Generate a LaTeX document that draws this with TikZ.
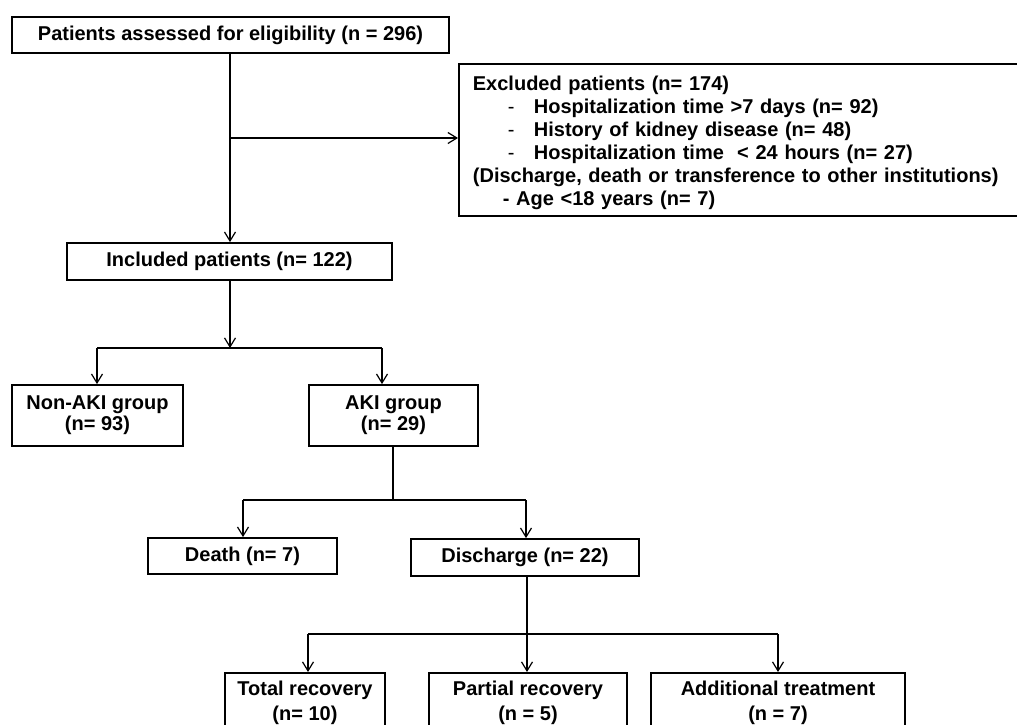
\documentclass[tikz,border=0pt]{standalone}
\usepackage{fontspec}
\setmainfont{Liberation Sans}
\usetikzlibrary{arrows.meta}

\tikzset{
  box/.style={draw, line width=1.8pt, inner sep=0pt, align=center,
    font=\fontsize{20}{23}\selectfont\bfseries},
  twoline/.style={box, font=\fontsize{20}{21}\selectfont\bfseries},
  endbox/.style={box, anchor=north, minimum height=60pt,
    font=\fontsize{20}{25}\selectfont\bfseries},
  link/.style={line width=1.2pt},
  arr/.style={link, -{Straight Barb[length=9pt,width=11pt]}}
}

\begin{document}
\begin{tikzpicture}[x=1pt,y=-1pt]
    \useasboundingbox (0,0) rectangle (1017,725);
    \clip (0,0) rectangle (1017,725);
    \fill[white] (0,0) rectangle (1017,725);
    \node[box, minimum width=437pt, minimum height=36pt] (assessed) at (230.5,35) {Patients assessed for eligibility (n = 296)};
    \node[box, anchor=north west, minimum width=600pt, minimum height=152pt,
      text width=572pt, inner xsep=14pt, align=left] (excluded) at (458,63)
      {\rule{0pt}{20pt}Excluded patients (n= 174)\\
       \hspace*{35pt}\makebox[26pt][l]{\mdseries -}Hospitalization time >7 days (n= 92)\\
       \hspace*{35pt}\makebox[26pt][l]{\mdseries -}History of kidney disease (n= 48)\\
       \hspace*{35pt}\makebox[26pt][l]{\mdseries -}Hospitalization time\ \ < 24 hours (n= 27)\\
       (Discharge, death or transference to other institutions)\\
       \hspace*{30pt}- Age <18 years (n= 7)};
    \node[box, minimum width=325pt, minimum height=37pt] (included) at (229.5,261.5) {Included patients (n= 122)};
    \node[twoline, minimum width=171pt, minimum height=61pt] (nonaki) at (97.5,415.5) {Non-AKI group\\(n= 93)};
    \node[twoline, minimum width=169pt, minimum height=61pt] (aki) at (393.5,415.5) {AKI group\\(n= 29)};
    \node[box, minimum width=189pt, minimum height=36pt] (death) at (242.5,556) {Death (n= 7)};
    \node[box, minimum width=228pt, minimum height=37pt] (discharge) at (525,557.5) {Discharge (n= 22)};
    \node[endbox, minimum width=160pt] (total) at (305,672) {Total recovery\\(n= 10)};
    \node[endbox, minimum width=198pt] (partial) at (528,672) {Partial recovery\\(n = 5)};
    \node[endbox, minimum width=254pt] (additional) at (778,672) {Additional treatment\\(n = 7)};

    % junctions
    \coordinate (J0) at (230,138);
    \coordinate (J1) at (230,348);
    \coordinate (J1l) at (97,348);
    \coordinate (J1r) at (382,348);
    \coordinate (J2) at (393,500);
    \coordinate (J2l) at (243,500);
    \coordinate (J2r) at (526,500);
    \coordinate (J3) at (527,634);
    \coordinate (J3l) at (308,634);
    \coordinate (J3r) at (778,634);

    \draw[arr] (assessed.south -| J0) -- (included.north -| J0);
    \draw[arr] (J0) -- (J0 -| excluded.west);
    \draw[arr] (included.south -| J1) -- (J1);
    \draw[link] (J1l) -- (J1r);
    \draw[arr] (J1l) -- (J1l |- nonaki.north);
    \draw[arr] (J1r) -- (J1r |- aki.north);
    \draw[link] (aki.south -| J2) -- (J2);
    \draw[link] (J2l) -- (J2r);
    \draw[arr] (J2l) -- (J2l |- death.north);
    \draw[arr] (J2r) -- (J2r |- discharge.north);
    \draw[link] (discharge.south -| J3) -- (J3);
    \draw[link] (J3l) -- (J3r);
    \draw[arr] (J3l) -- (J3l |- total.north);
    \draw[arr] (J3) -- (J3 |- partial.north);
    \draw[arr] (J3r) -- (J3r |- additional.north);
\end{tikzpicture}
\end{document}
